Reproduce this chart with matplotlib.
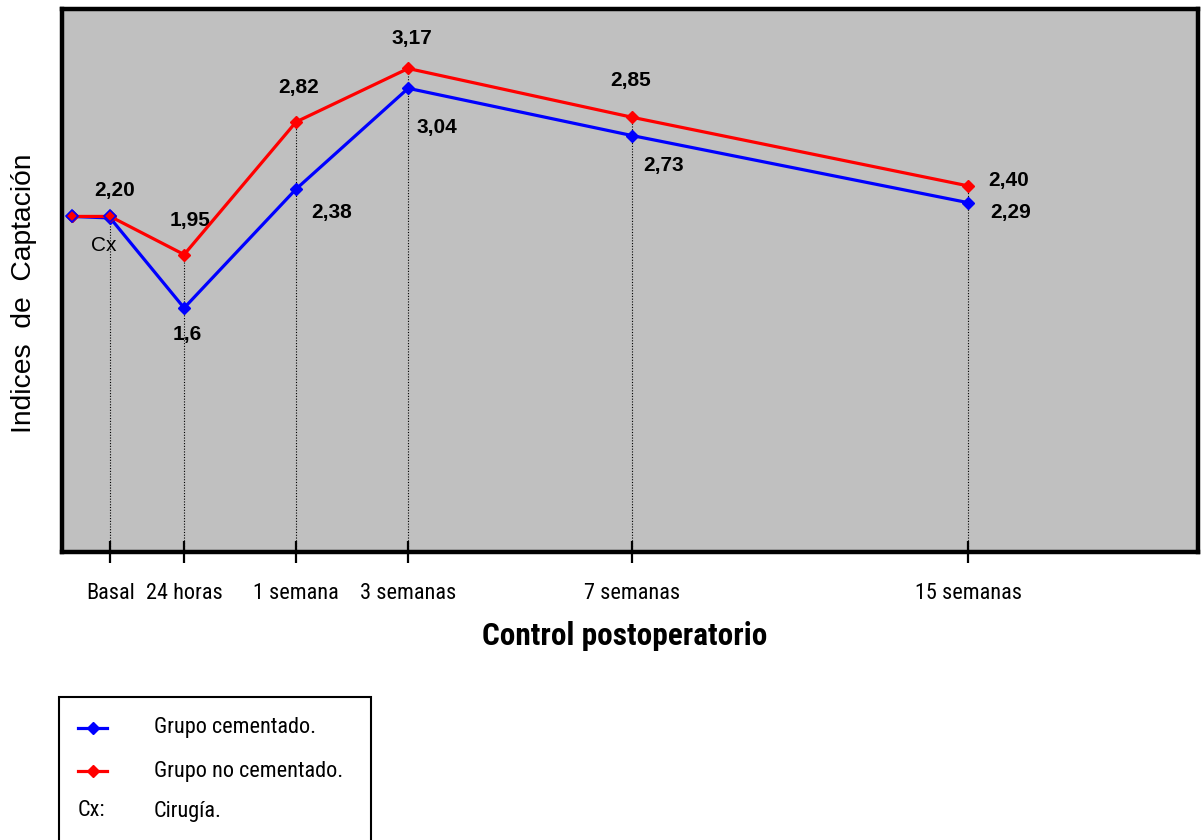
import matplotlib
matplotlib.use("Agg")
import matplotlib.pyplot as plt
from matplotlib.lines import Line2D
from matplotlib.patches import Rectangle

NARROW = ['Roboto Condensed', 'DejaVu Sans']
WIDE = ['Liberation Sans', 'DejaVu Sans']
plt.rcParams['font.family'] = NARROW

# ---- data ----
x_pos = [0, 0.68, 2, 4, 6, 10, 16]
cementado = [2.20, 2.19, 1.60, 2.38, 3.04, 2.73, 2.29]
no_cementado = [2.20, 2.20, 1.95, 2.82, 3.17, 2.85, 2.40]
tick_pos = [0.68, 2, 4, 6, 10, 16]
tick_labels = ["Basal", "24 horas", "1 semana", "3 semanas", "7 semanas", "15 semanas"]

# value labels: (point index, text, dx px, dy px)
red_labels = [(1, "2,20", 4, 26), (2, "1,95", 6, 34), (3, "2,82", 2, 34),
              (4, "3,17", 4, 30), (5, "2,85", -2, 37), (6, "2,40", 40, 5)]
blue_labels = [(2, "1,6", 3, -27), (3, "2,38", 35, -24), (4, "3,04", 29, -39),
               (5, "2,73", 31, -30), (6, "2,29", 42, -10)]

W, H = 1201, 840
fig = plt.figure(figsize=(W / 100, H / 100), dpi=100)
ax = fig.add_axes([62 / W, 1 - 552 / H, (1198 - 62) / W, (552 - 9) / H])
ax.set_facecolor('#C0C0C0')
ax.set_xlim(-0.18, 20.1)
ax.set_ylim(0, 3.56)

# dotted drop lines
for xp in tick_pos:
    i = x_pos.index(xp)
    top = max(cementado[i], no_cementado[i])
    ax.plot([xp, xp], [0, top], color='black', lw=0.8, ls=(0, (1, 1.5)), zorder=1)

ax.plot(x_pos, cementado, color='#0000FF', lw=2.3, marker='D', ms=6.5, zorder=3)
ax.plot(x_pos, no_cementado, color='#FF0000', lw=2.3, marker='D', ms=6.5, zorder=4)
ax.plot(x_pos[:2], no_cementado[:2], ls='none', marker='D', ms=6.5, mfc='#FF0000',
        mec='#0000FF', mew=1.2, zorder=5)

px = 0.72  # points per pixel at 100 dpi
for i, t, dx, dy in red_labels:
    ax.annotate(t, (x_pos[i], no_cementado[i]), xytext=(dx * px, dy * px),
                textcoords='offset points', ha='center', va='center',
                fontsize=15, fontweight='bold', family=WIDE)
for i, t, dx, dy in blue_labels:
    ax.annotate(t, (x_pos[i], cementado[i]), xytext=(dx * px, dy * px),
                textcoords='offset points', ha='center', va='center',
                fontsize=15, fontweight='bold', family=WIDE)
ax.annotate("Cx", (x_pos[1], cementado[1]), xytext=(-6 * px, -28 * px),
            textcoords='offset points', ha='center', va='center', fontsize=15,
            family=WIDE)

ax.set_yticks([])
ax.set_xticks(tick_pos)
ax.set_xticklabels(tick_labels, fontsize=16)
ax.tick_params(axis='x', direction='inout', length=16, width=1.6, pad=14)
for s in ax.spines.values():
    s.set_linewidth(3.2)
    s.set_color('black')

fig.text(625 / W, 1 - 636 / H, "Control postoperatorio", ha='center', va='center',
         fontsize=22.5, fontweight='bold')
fig.text(24 / W, 1 - 293 / H, "Indices  de  Captación", ha='center', va='center',
         rotation=90, fontsize=20.3, family=WIDE)

# legend box
fig.patches.append(Rectangle((59 / W, -0.05), (371 - 59) / W, 0.05 + (840 - 697) / H,
                             transform=fig.transFigure, fill=False, lw=1.5,
                             edgecolor='black'))
for yy, c in [(728, '#0000FF'), (771, '#FF0000')]:
    fig.add_artist(Line2D([78 / W, 107 / W], [1 - yy / H, 1 - yy / H], color=c, lw=2.3,
                          transform=fig.transFigure))
    fig.add_artist(Line2D([92.5 / W], [1 - yy / H], color=c, marker='D', ms=6,
                          transform=fig.transFigure))
fig.text(154 / W, 1 - 728 / H, "Grupo cementado.", va='center', fontsize=16)
fig.text(154 / W, 1 - 771 / H, "Grupo no cementado.", va='center', fontsize=16)
fig.text(78 / W, 1 - 811 / H, "Cx:", va='center', fontsize=16)
fig.text(154 / W, 1 - 811 / H, "Cirugía.", va='center', fontsize=16)

fig.savefig("out.png", dpi=100)
